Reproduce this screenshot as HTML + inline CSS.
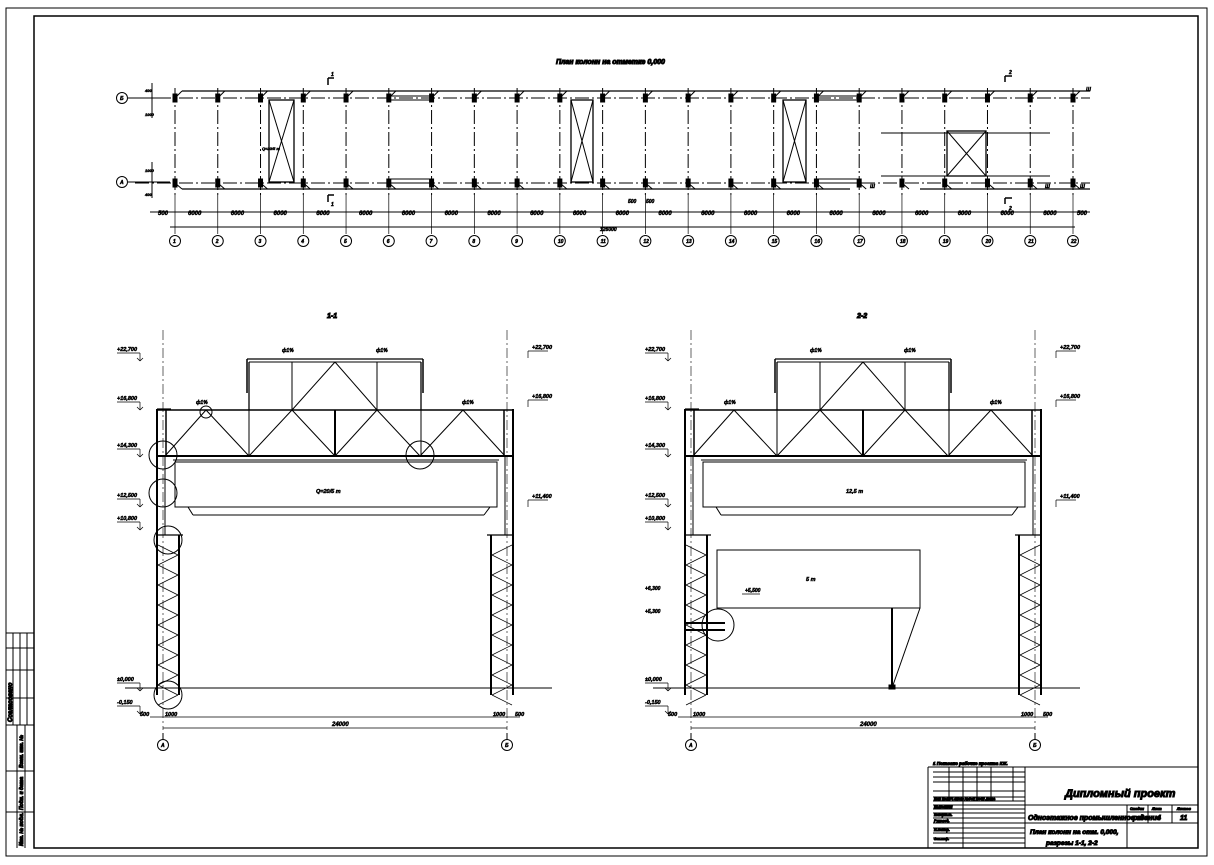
<!DOCTYPE html>
<html><head><meta charset="utf-8"><style>
html,body{margin:0;padding:0;background:#fff}
svg{display:block}
text{font-family:"Liberation Sans","Noto Sans CJK SC",sans-serif;font-weight:bold;font-style:italic;fill:#000}
#g text{stroke:#000;stroke-width:0.5}
</style></head><body>
<svg id="s" width="1214" height="865" viewBox="0 0 1214 865" xmlns="http://www.w3.org/2000/svg" stroke="#000" fill="none" stroke-width="1">
<rect x="6" y="8" width="1201" height="848" stroke-width="1"/>
<rect x="34" y="16" width="1164" height="832" stroke-width="1.5"/>
<g stroke-width="1">
<path d="M6 633H34M6 648H34M6 670H34M6 698H34M6 725H34M6 771H34M6 812H34M13 633V725M20 633V725M27 633V725M17 725V848M25 725V848"/>
</g>
<text x="12" y="722" font-size="6" transform="rotate(-90 12 722)">Согласовано</text>
<text x="23" y="768" font-size="5" transform="rotate(-90 23 768)">Взам. инв. №</text>
<text x="23" y="810" font-size="5" transform="rotate(-90 23 810)">Подп. и дата</text>
<text x="23" y="846" font-size="5" transform="rotate(-90 23 846)">Инв. № подл.</text>

<text x="556" y="64" font-size="7">План колонн на отметке 0,000</text>
<text x="327" y="318" font-size="7">1-1</text>
<text x="857" y="318" font-size="7">2-2</text>

<g id="g"></g>

<g stroke-width="1">
<path d="M928 767H1198M1025 805H1198M1025 823H1198M1127 812H1198M1127 805V848M1148 805V823M1172 805V823M1025 767V848M928 767V848"/>
<path d="M933 772H1025M933 777H1025M933 782H1025M933 791H1025M933 797H1025M933 801H1025M933 805H1025M933 809H1025M933 813H1025M933 818H1025M933 823H1025M933 828H1025M933 833H1025M933 838H1025M933 843H1025"/>
<path d="M949 767V801M963 767V801M977 767V801M991 767V801M1013 767V801M963 801V848" />
</g>
<text x="933" y="765" font-size="4.5">1 Показано рабочие проекта КЖ.</text>
<text x="1065" y="797" font-size="11" font-weight="normal">Дипломный проект</text>
<text x="1028" y="820" font-size="7">Одноэтажное промышленное здание</text>
<text x="1030" y="834" font-size="6.5">План колонн на отм. 0,000,</text>
<text x="1046" y="845" font-size="6.5">разрезы 1-1, 2-2</text>
<text x="1133" y="820" font-size="7">р.п</text>
<text x="1157" y="820" font-size="7">4</text>
<text x="1180" y="820" font-size="7">11</text>
<text x="1130" y="810" font-size="3.5">Стадия</text><text x="1152" y="810" font-size="3.5">Лист</text><text x="1177" y="810" font-size="3.5">Листов</text>
<text x="934" y="800" font-size="3.5">Изм Кол.уч Лист №док Подп Дата</text>
<text x="934" y="808" font-size="3.5">Выполнил</text><text x="934" y="816" font-size="3.5">Консульт.</text><text x="934" y="822" font-size="3.5">Руковод.</text><text x="934" y="831" font-size="3.5">Н.контр.</text><text x="934" y="840" font-size="3.5">Зав.каф.</text>
</svg>
<script>
var g=document.getElementById('g'),NS='http://www.w3.org/2000/svg';
function L(x1,y1,x2,y2,w,d){var e=document.createElementNS(NS,'line');e.setAttribute('x1',x1);e.setAttribute('y1',y1);e.setAttribute('x2',x2);e.setAttribute('y2',y2);e.setAttribute('stroke-width',w||1);if(d)e.setAttribute('stroke-dasharray',d);g.appendChild(e);}
function R(x,y,w,h,sw,f){var e=document.createElementNS(NS,'rect');e.setAttribute('x',x);e.setAttribute('y',y);e.setAttribute('width',w);e.setAttribute('height',h);e.setAttribute('stroke-width',sw||1);if(f)e.setAttribute('fill',f);g.appendChild(e);}
function C(x,y,r,w){var e=document.createElementNS(NS,'circle');e.setAttribute('cx',x);e.setAttribute('cy',y);e.setAttribute('r',r);e.setAttribute('stroke-width',w||1);g.appendChild(e);}
function T(x,y,s,fs){var e=document.createElementNS(NS,'text');e.setAttribute('x',x);e.setAttribute('y',y);e.setAttribute('font-size',fs||5);e.textContent=s;g.appendChild(e);}
var xs=[];for(var i=0;i<22;i++)xs.push(175+i*(1073-175)/21);
var yB=98,yA=183;
L(135,yB,1090,yB,1,'14 3 2 3');L(135,yA,1090,yA,1,'14 3 2 3');
L(182,91,1090,91,1.3);L(182,189,850,189,1.3);L(920,189,1090,189,1.3);
xs.forEach(function(x,i){
 L(x,88,x,195,1,'14 3 2 3');L(x,195,x,234,0.7);
 R(x-2,yB-4,4,8,1,'#000');R(x-2,yA-4,4,8,1,'#000');
 L(x,yB,x+7,91);L(x,yA,x+7,189);
 C(x,241,5.5,1);T(x-2,243,(i+1)+'',5);
 if(i<21)T(x+13,215,'6000',6);
});
C(122,98,5.5);C(122,182,5.5);T(120,100,'Б',5);T(120,184,'А',5);
L(128,98,170,98);L(128,182,170,182);
L(152,83,152,118,1);L(152,162,152,198,1);T(145,92,'400',4);T(145,116,'1000',4);T(145,172,'1000',4);T(145,196,'400',4);
L(150,212,1090,212,1);L(170,227,1075,227,1);T(600,231,'126000',5);T(158,215,'500',6);T(1077,215,'500',6);
T(646,203,'500',5);T(628,203,'500',5);
function X(x,y,w,h){R(x,y,w,h,1.3);L(x,y,x+w,y+h);L(x+w,y,x,y+h);}
X(269,100,25,82);X(571,100,22,82);X(783,100,23,82);X(947,131,39,45);
R(389,96,42,4,1);R(389,179,42,4,1);R(816,96,42,4,1);R(816,179,42,4,1);
L(881,133,1050,133);L(881,176,1050,176);
T(262,150,'Q=20/5 т',4);
L(328,85,328,78,1.5);L(328,78,334,78,1.5);T(331,76,'1',5);
L(328,195,328,202,1.5);L(328,195,334,195,1.5);T(331,206,'1',5);
L(1005,82,1005,76,1.5);L(1005,76,1012,76,1.5);T(1009,74,'2',5);
L(1005,198,1005,204,1.5);L(1005,198,1012,198,1.5);T(1009,210,'2',5);
T(1086,91,'Ш',5);T(870,188,'Ш',5);T(1045,188,'Ш',5);T(1080,188,'Ш',5);
function sec(dx,two){
 var a=163+dx,b=507+dx;
 L(125+dx,688,552+dx,688,1);
 L(a-6,409,a-6,695,2);L(a+2,455,a+2,535,1);L(b+6,409,b+6,695,2);L(b-2,455,b-2,535,1);
 L(a-6,409,a+8,409,1.2);
 L(a+16,535,a+16,695,2);L(b-16,535,b-16,695,2);
 L(a-6,535,a+20,535,1.2);L(b-20,535,b+6,535,1.2);
 for(var y=545;y<688;y+=20){L(a-5,y,a+15,y+10,0.7);L(a+15,y+10,a-5,y+20,0.7);L(b+5,y,b-15,y+10,0.7);L(b-15,y+10,b+5,y+20,0.7);}
 L(a,330,a,730,0.6,'10 3 2 3');L(b,330,b,730,0.6,'10 3 2 3');
 L(a-6,410,b+6,410,1.5);L(a-6,456,b+6,456,2);L(a+3,410,a+3,456,1.5);L(b-3,410,b-3,456,1.5);
 var T1=[206,292,335,377,463].map(function(v){return v+dx}),B1=[165,249,335,420,505].map(function(v){return v+dx});
 L(B1[0],456,T1[0],410);L(T1[0],410,B1[1],456);L(B1[1],456,T1[1],410);L(T1[1],410,B1[2],456);L(B1[2],456,T1[3],410);L(T1[3],410,B1[3],456);L(B1[3],456,T1[4],410);L(T1[4],410,B1[4],456);
 L(335+dx,410,335+dx,456,2);L(249+dx,410,249+dx,456);L(421+dx,410,421+dx,456);
 L(247+dx,359,423+dx,359,1.3);L(249+dx,362,421+dx,362);L(249+dx,362,249+dx,410,1.3);L(421+dx,362,421+dx,410,1.3);
 L(247+dx,359,247+dx,393,1.5);L(423+dx,359,423+dx,393,1.5);
 L(292+dx,362,292+dx,410);L(377+dx,362,377+dx,410);L(292+dx,410,335+dx,362);L(335+dx,362,377+dx,410);
 R(175+dx,462,322,45,1);L(173+dx,460,499+dx,460);
 L(188+dx,507,193+dx,515);L(193+dx,515,484+dx,515);L(484+dx,515,490+dx,507);
 L(150+dx,717,520+dx,717,0.8);L(163+dx,728,507+dx,728,0.8);
 T(332+dx,726,'24000',6);T(140+dx,716,'500',5.5);T(165+dx,716,'1000',5.5);T(493+dx,716,'1000',5.5);T(515+dx,716,'500',5.5);
 C(a,745,5.5);C(b,745,5.5);T(a-2,747,'А',5);T(b-2,747,'Б',5);
 L(a,733,a,739);L(b,733,b,739);
 T(282+dx,352,'ф1%',5);T(376+dx,352,'ф1%',5);T(196+dx,404,'ф1%',5);T(462+dx,404,'ф1%',5);
 [[351,'+22,700'],[400,'+16,800'],[447,'+14,300'],[497,'+12,500'],[520,'+10,800'],[681,'±0,000'],[704,'-0,150']].forEach(function(m){T(117+dx,m[0],m[1],5.5);L(117+dx,m[0]+2,140+dx,m[0]+2,0.7);L(140+dx,m[0]+2,140+dx,m[0]+10,0.7);L(137+dx,m[0]+7,140+dx,m[0]+10,0.7);L(143+dx,m[0]+7,140+dx,m[0]+10,0.7);});
 [[349,'+22,700'],[398,'+16,800'],[498,'+11,400']].forEach(function(m){T(532+dx,m[0],m[1],5.5);L(528+dx,m[0]+2,548+dx,m[0]+2,0.7);L(528+dx,m[0]+2,528+dx,m[0]+9,0.7);});
 if(!two){
  C(206+dx,412,6);C(163+dx,455,14);C(163+dx,493,14);C(168+dx,540,14);C(168+dx,695,14);C(420+dx,455,14);
  T(316+dx,493,'Q=20/5 т',5.5);
 } else {
  R(717,550,203,58,1);L(892,608,892,688,2);L(920,608,892,688);R(889,685,6,4,1,'#000');
  L(686,623,725,623,2);L(686,630,725,630,2);C(718,625,16);
  T(806,581,'5 т',5.5);T(745,592,'+5,500',5);L(742,594,760,594,0.7);
  T(645,590,'+6,300',5);T(645,613,'+5,300',5);
  T(846,493,'12,5 т',5.5);
 }
}
sec(0,false);sec(528,true);
</script>
</body></html>
